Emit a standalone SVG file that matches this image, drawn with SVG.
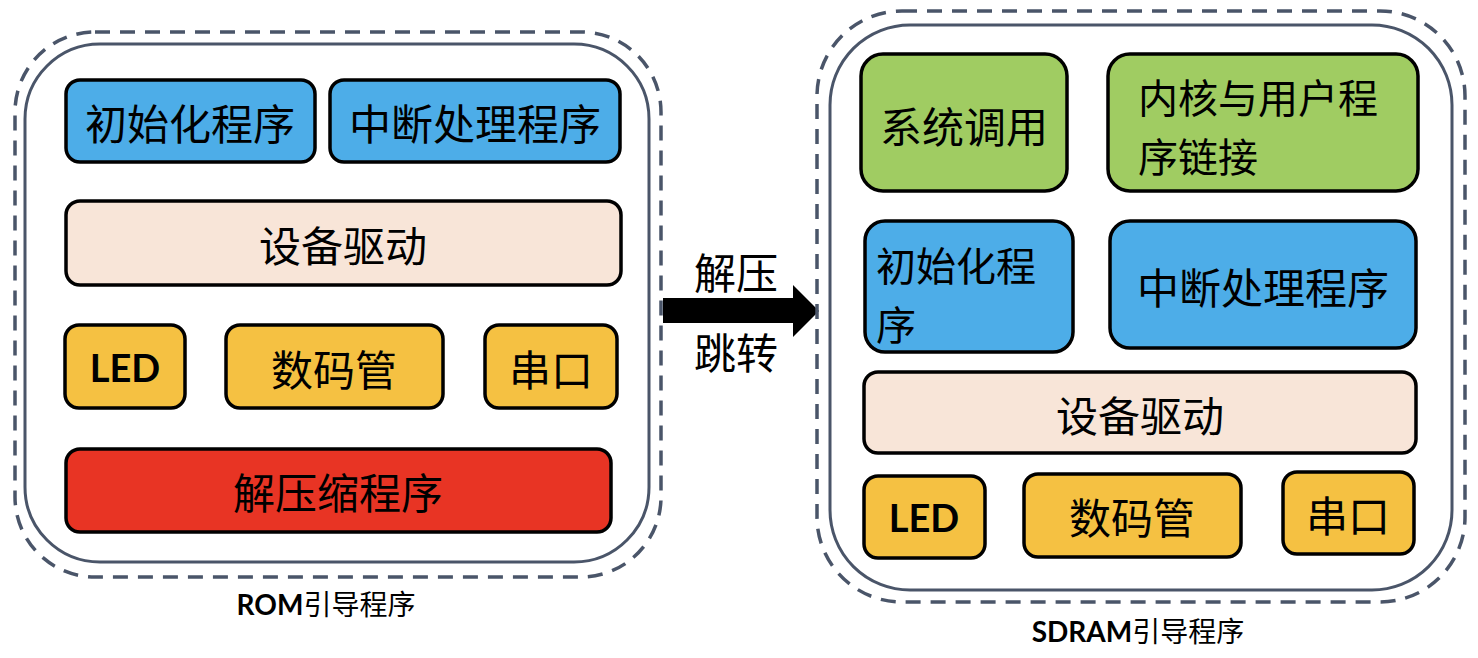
<svg xmlns="http://www.w3.org/2000/svg" width="1478" height="658" viewBox="0 0 1478 658">
<style>
.dash{fill:none;stroke:#4A5569;stroke-width:3.5;stroke-dasharray:15 10}
.frame{fill:none;stroke:#4A5569;stroke-width:3}
.box{stroke:#000;stroke-width:3.5}
.blue{fill:#4DADE8}
.peach{fill:#F8E5D8}
.yellow{fill:#F5C142}
.red{fill:#E83424}
.green{fill:#A0CC62}
.t{font-family:"Noto Sans CJK SC","Noto Sans",sans-serif;font-size:42px;fill:#000;dominant-baseline:central}
.t2{font-family:"Noto Sans CJK SC","Noto Sans",sans-serif;font-size:40px;fill:#000;dominant-baseline:central}
.c{text-anchor:middle}
.led{font-family:Lato,"Open Sans",sans-serif;font-weight:bold;font-size:38px;fill:#000;text-anchor:middle;dominant-baseline:central}
.lab{font-family:"Noto Sans CJK SC","Noto Sans",sans-serif;font-size:28px;fill:#000;text-anchor:middle}
.b{font-family:Lato,"Open Sans",sans-serif;font-weight:bold}
</style>
<rect width="1478" height="658" fill="#fff"/>
<g id="rom">
<rect class="dash" x="15" y="32" width="646" height="545" rx="80"/>
<rect class="frame" x="25" y="44" width="624" height="518" rx="75"/>
</g>
<g id="rom-init"><rect class="box blue" x="66" y="80" width="249" height="82" rx="14"/><text class="t c" x="190" y="121">初始化程序</text></g>
<g id="rom-irq"><rect class="box blue" x="330" y="80" width="290" height="82" rx="14"/><text class="t c" x="475" y="121">中断处理程序</text></g>
<g id="rom-drv"><rect class="box peach" x="66" y="201" width="555" height="84" rx="14"/><text class="t c" x="343" y="243">设备驱动</text></g>
<g id="rom-led"><rect class="box yellow" x="65" y="325" width="120" height="83" rx="14"/><text class="led" x="125" y="367">LED</text></g>
<g id="rom-seg"><rect class="box yellow" x="226" y="325" width="217" height="83" rx="14"/><text class="t c" x="334" y="367">数码管</text></g>
<g id="rom-uart"><rect class="box yellow" x="485" y="325" width="132" height="83" rx="14"/><text class="t c" x="551" y="367">串口</text></g>
<g id="rom-unzip"><rect class="box red" x="66" y="449" width="545" height="83" rx="14"/><text class="t c" x="338" y="490">解压缩程序</text></g>
<text class="lab" x="326" y="615"><tspan class="b">ROM</tspan>引导程序</text>

<g id="connectors">
<polygon points="663,298 793,298 793,285 819,311 793,337 793,323 663,323" fill="#000"/>
<text class="t c" x="736" y="270">解压</text>
<text class="t c" x="736" y="350">跳转</text>
</g>

<g id="sdram">
<rect class="dash" x="817" y="11" width="648" height="591" rx="85"/>
<rect class="frame" x="830" y="25" width="622" height="565" rx="80"/>
</g>
<g id="sd-sys"><rect class="box green" x="861" y="54" width="206" height="137" rx="22"/><text class="t c" x="964" y="124">系统调用</text></g>
<g id="sd-link"><rect class="box green" x="1108" y="54" width="310" height="137" rx="22"/><text class="t2" x="1138" y="96">内核与用户程</text><text class="t2" x="1138" y="155">序链接</text></g>
<g id="sd-init"><rect class="box blue" x="865" y="221" width="208" height="131" rx="20"/><text class="t2" x="876" y="264">初始化程</text><text class="t2" x="876" y="323">序</text></g>
<g id="sd-irq"><rect class="box blue" x="1110" y="221" width="306" height="127" rx="20"/><text class="t c" x="1263" y="285">中断处理程序</text></g>
<g id="sd-drv"><rect class="box peach" x="864" y="372" width="552" height="81" rx="14"/><text class="t c" x="1140" y="413">设备驱动</text></g>
<g id="sd-led"><rect class="box yellow" x="864" y="476" width="121" height="82" rx="14"/><text class="led" x="924" y="517">LED</text></g>
<g id="sd-seg"><rect class="box yellow" x="1024" y="474" width="217" height="83" rx="14"/><text class="t c" x="1132" y="515">数码管</text></g>
<g id="sd-uart"><rect class="box yellow" x="1283" y="472" width="131" height="82" rx="14"/><text class="t c" x="1348" y="513">串口</text></g>
<text class="lab" x="1138" y="642"><tspan class="b">SDRAM</tspan>引导程序</text>
</svg>
